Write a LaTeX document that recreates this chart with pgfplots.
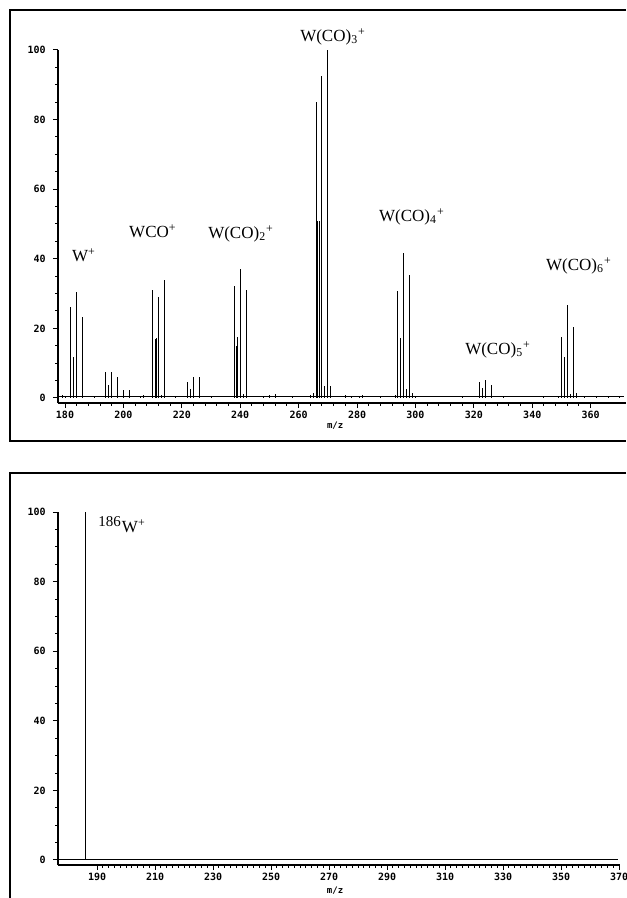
\documentclass[border=0pt]{standalone}
\usepackage{fontspec}
\setmainfont{Liberation Serif}
\setmonofont{DejaVu Sans Mono}
\usepackage{pgfplots}
\pgfplotsset{compat=1.18}
\pgfplotsset{
  specstyle/.style={
    scale only axis,
    axis x line=bottom, axis y line=left,
    axis line style={-, line width=0.6pt},
    tick align=outside,
    major tick length=2.6pt, minor tick length=1.4pt,
    every tick/.style={black, line width=0.5pt},
    tick label style={font=\fontsize{5}{6}\selectfont\ttfamily\bfseries},
    xticklabel style={yshift=2pt},
    /pgf/number format/assume math mode=true,
    ytick={0,20,40,60,80,100}, minor y tick num=3,
    clip=false,
    xlabel style={font=\fontsize{4.5}{5}\selectfont\ttfamily\bfseries},
  },
}
\tikzset{ann/.style={font=\fontsize{8.5}{10}\selectfont, inner sep=0pt}}
\begin{document}
\begin{tikzpicture}
\useasboundingbox (0pt,0pt) rectangle (313pt,-449pt);
% panel frames
\draw[line width=0.7pt] (313pt,-5pt) -- (5pt,-5pt) -- (5pt,-220.5pt) -- (313pt,-220.5pt);
\draw[line width=0.7pt] (313pt,-236.5pt) -- (5pt,-236.5pt) -- (5pt,-449pt);

% ---------- top panel: full spectrum ----------
\begin{axis}[specstyle,
  at={(29pt,-201.5pt)}, anchor=south west,
  width=284pt, height=176.5pt,
  xmin=177.6, xmax=372.1, ymin=-1.44, ymax=100,
  xtick={180,200,...,360}, minor x tick num=4,
  xlabel={m/z}, xlabel style={at={(axis description cs:0.488,-0.064)}, anchor=center},
]
% baseline
\addplot[black, line width=0.5pt] coordinates {(177.8,0.3) (371.5,0.3)};
% peaks
\addplot[ycomb, black, line width=0.5pt, mark=none] coordinates {
 (179,0.8) (180,0.5) (181.85,25.0)
 (182,26.1) (183,11.9) (184,30.6) (186,23.4)
 (190,0.3)
 (194,7.6) (195,3.7) (196,7.5) (198,6.0) (200,2.3) (202,2.3)
 (206,0.6) (207,0.8)
 (210,31.0) (211,17.0) (211.3,17.2) (212,29.0) (213,1.0) (214,33.9)
 (218,0.5)
 (222,4.7) (223,2.7) (224,6.0) (226,6.0)
 (230,0.4)
 (238,32.2) (238.8,15.0) (239,17.6) (240,37.1) (241,1.2) (242,31.0)
 (248,0.7) (250,0.9) (252,1.2) (258,0.5) (264,0.8) (265,1.5)
 (266,85.0) (266.5,51.0) (267,51.0) (268,92.5) (269,3.5) (270,100.0) (271,3.5)
 (276,0.8) (278,0.6) (281,0.7) (282,1.0) (288,0.6) (293,0.8)
 (294,30.8) (294.8,17.1) (295,17.1) (296,41.6) (297,2.5) (298,35.3) (299,1.5)
 (300,0.6) (316,0.4)
 (322,4.7) (323,2.8) (324,5.2) (326,3.8)
 (330,0.7) (344,0.6) (349,0.6)
 (350,17.6) (351,11.9) (352,26.7) (353,1.2) (354,20.5) (355,1.5)
 (358,0.5) (362,0.5) (366,0.6) (370,0.4)
};
\node[ann] at (axis cs:186.5,41.1) {W\textsuperscript{+}};
\node[ann] at (axis cs:210.1,48.0) {WCO\textsuperscript{+}};
\node[ann] at (axis cs:240.3,47.1) {W(CO)\textsubscript{2}\textsuperscript{+}};
\node[ann] at (axis cs:271.8,103.7) {W(CO)\textsubscript{3}\textsuperscript{+}};
\node[ann] at (axis cs:298.8,52.0) {W(CO)\textsubscript{4}\textsuperscript{+}};
\node[ann] at (axis cs:328.3,13.8) {W(CO)\textsubscript{5}\textsuperscript{+}};
\node[ann] at (axis cs:356.0,37.9) {W(CO)\textsubscript{6}\textsuperscript{+}};
\end{axis}

% ---------- bottom panel: mass-selected 186W+ ----------
\begin{axis}[specstyle,
  at={(29pt,-432.5pt)}, anchor=south west,
  width=281pt, height=176.5pt,
  xmin=176.5, xmax=370.3, ymin=-1.44, ymax=100,
  xtick={190,210,...,370}, minor x tick num=9,
  xlabel={m/z}, xlabel style={at={(axis description cs:0.493,-0.072)}, anchor=center},
]
\addplot[black, line width=0.5pt] coordinates {(176.5,0) (369.5,0)};
\addplot[ycomb, black, line width=0.6pt, mark=none] coordinates {(186,100)};
\node[ann] at (axis cs:198.6,96.3) {\textsuperscript{\fontsize{7.5}{8}\selectfont 186}W\textsuperscript{+}};
\end{axis}
\end{tikzpicture}
\end{document}
